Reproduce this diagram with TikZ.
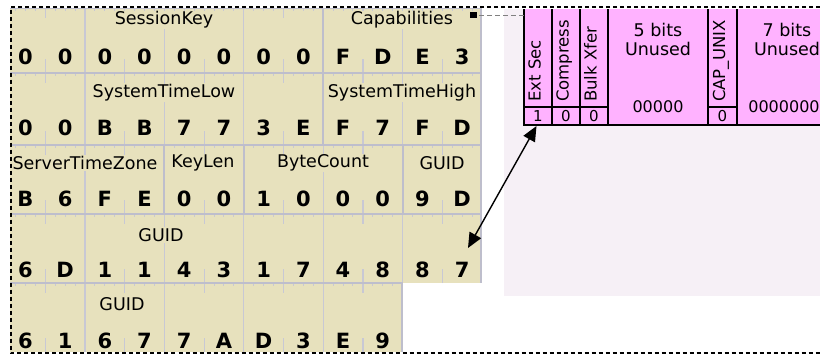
\documentclass[tikz,border=0pt]{standalone}
\usepackage{fontspec}
\setmainfont{DejaVu Sans}
\usetikzlibrary{arrows.meta}
\definecolor{beige}{RGB}{231,225,189}
\definecolor{gridc}{RGB}{200,200,212}
\definecolor{fieldc}{RGB}{190,190,204}
\definecolor{pinkc}{RGB}{255,178,255}
\definecolor{lav}{RGB}{246,240,246}
\tikzset{
  lbl/.style={font=\fontsize{17.5}{19}\selectfont, fill=beige, inner sep=1pt},
  dig/.style={font=\bfseries\fontsize{21}{23}\selectfont, inner sep=0pt},
  vtxt/.style={font=\fontsize{16.5}{18}\selectfont, rotate=90, anchor=mid west, inner sep=0pt},
  ptxt/.style={font=\fontsize{17.5}{19}\selectfont, inner sep=0pt},
  bitv/.style={font=\fontsize{15}{17}\selectfont, inner sep=0pt},
  gline/.style={draw=gridc, line width=1.2pt},
  fline/.style={draw=fieldc, line width=2pt},
  pline/.style={draw=black, line width=1.4pt},
  dbl/.style={{Triangle[length=15pt,width=13pt]}-{Triangle[length=15pt,width=13pt]}, line width=1.4pt},
  frame/.style={draw=black, dash pattern=on 4pt off 3pt, line width=2pt}
}
\begin{document}
\begin{tikzpicture}[x=1pt,y=-1pt]
\useasboundingbox (0,0) rectangle (820,354);
% background panels
\fill[lav] (504,9) rectangle (820,296);
\fill[beige] (10,8) rectangle (482,283);
\fill[beige] (10,283) rectangle (403,352);
% grid of the byte table
\begin{scope}
\clip (10,8) rectangle (482,283) (10,283) rectangle (404,352);
\foreach \t/\b/\n in {8/73/12, 73/145/12, 145/214/12, 214/283/12, 283/352/10} {
  \pgfmathtruncatemacro\nb{4*\n-1}
  \pgfmathtruncatemacro\nm{\n-1}
  \pgfmathtruncatemacro\nn{\n-2}
  \foreach \j in {1,...,\nb} { \draw[gline, line width=1pt] ({5.6+9.925*\j},\t) -- ++(0,3); }
  \foreach \k in {1,3,...,\nm} {
    \draw[gline] ({5.6+39.7*\k},\t) -- ++(0,10);
    \draw[gline] ({5.6+39.7*\k},\b) -- ++(0,-14);
  }
  \foreach \k in {2,4,...,\nn} { \draw[gline] ({5.6+39.7*\k},\t) -- ({5.6+39.7*\k},\b); }
  \draw[fline] (10,\t) -- ({5.6+39.7*\n},\t);
  \draw[fline] ({5.6+39.7*\n-1},\t) -- ({5.6+39.7*\n-1},\b);
}
\end{scope}
% field boundaries
\draw[fline] (323.2,8) -- (323.2,145);
\draw[fline] (164.4,145) -- (164.4,214);
\draw[fline] (243.8,145) -- (243.8,214);
\draw[fline] (402.6,145) -- (402.6,214);
% field labels
\node[lbl] (lSK)  at (164,20)  {SessionKey};
\node[lbl] (lCap) at (402,20)  {Capabilities};
\node[lbl] (lSTL) at (164,93)  {SystemTimeLow};
\node[lbl] (lSTH) at (402,93)  {SystemTimeHigh};
\node[lbl] (lSTZ) at (85,163)  {ServerTimeZone};
\node[lbl] (lKL)  at (203,163) {KeyLen};
\node[lbl] (lBC)  at (323,163) {ByteCount};
\node[lbl] (lG1)  at (442,163) {GUID};
\node[lbl] (lG2)  at (161,235) {GUID};
\node[lbl] (lG3)  at (122,304) {GUID};
% digits
\foreach \d [count=\k from 0] in {0,0,0,0,0,0,0,0,F,D,E,3}
  \node[dig] (d1-\k) at ({25.45+39.7*\k},57) {\d};
\foreach \d [count=\k from 0] in {0,0,B,B,7,7,3,E,F,7,F,D}
  \node[dig] (d2-\k) at ({25.45+39.7*\k},128) {\d};
\foreach \d [count=\k from 0] in {B,6,F,E,0,0,1,0,0,0,9,D}
  \node[dig] (d3-\k) at ({25.45+39.7*\k},199) {\d};
\foreach \d [count=\k from 0] in {6,D,1,1,4,3,1,7,4,8,8,7}
  \node[dig] (d4-\k) at ({25.45+39.7*\k},270) {\d};
\foreach \d [count=\k from 0] in {6,1,6,7,7,A,D,3,E,9}
  \node[dig] (d5-\k) at ({25.45+39.7*\k},341) {\d};
% capability bits panel
\fill[pinkc] (524,9) rectangle (822,125);
\draw[pline] (524,9) -- (524,125) -- (822,125);
\foreach \x in {552,580,608,708,737} { \draw[pline] (\x,9) -- (\x,125); }
\draw[pline] (524,107) -- (608,107);
\draw[pline] (708,107) -- (737,107);
\node[vtxt] (vES) at (538,102) {Ext Sec};
\node[vtxt] (vCo) at (566,102) {Compress};
\node[vtxt] (vBX) at (594,102) {Bulk Xfer};
\node[vtxt] (vCU) at (722.5,102) {CAP\_UNIX};
\node[ptxt] (p5a) at (658,30) {5 bits};
\node[ptxt] (p5b) at (658,49) {Unused};
\node[ptxt, font=\fontsize{16}{18}\selectfont] (p5c) at (658,107) {00000};
\node[ptxt] (p7a) at (787,30) {7 bits};
\node[ptxt] (p7b) at (787,49) {Unused};
\node[ptxt, font=\fontsize{16}{18}\selectfont] (p7c) at (784,107) {0000000};
\node[bitv] (bES) at (538,116) {1};
\node[bitv] (bCo) at (566,116) {0};
\node[bitv] (bBX) at (594,116) {0};
\node[bitv] (bCU) at (722.5,116) {0};
% selection handle
\fill[black] (470,12) rectangle (477,18);
\draw[gray, dash pattern=on 5pt off 3pt, line width=1pt] (479,15) -- (524,15);
% double arrow
\coordinate (a1) at (536.5,126);
\coordinate (a2) at (468,248);
\draw[dbl] (a1) -- (a2);
% dashed frame
\draw[frame] (820,7) -- (10.5,7) -- (10.5,352.5) -- (820,352.5);
\end{tikzpicture}
\end{document}
